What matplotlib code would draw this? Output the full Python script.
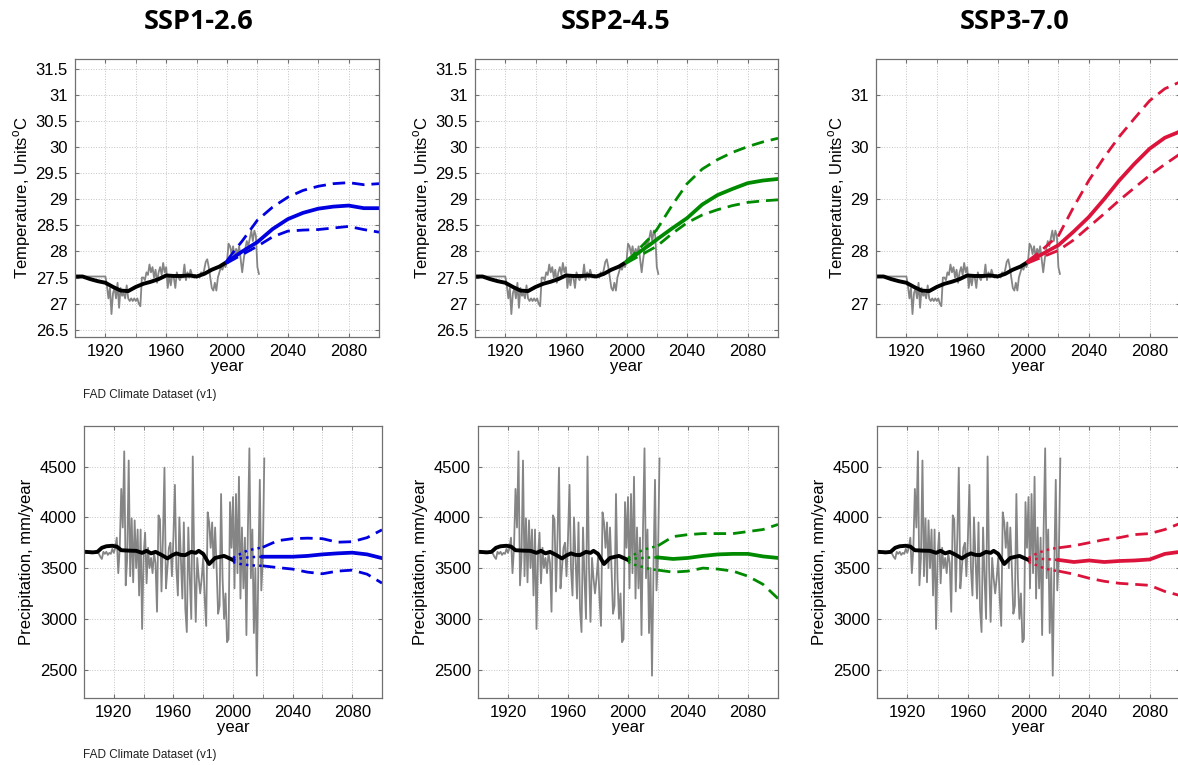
# -*- coding: utf-8 -*-
#=============================================================================
#IMPORT
#=============================================================================

import numpy as np
import matplotlib
matplotlib.use('Agg')
import matplotlib.pyplot as plt

plt.rcParams['font.family'] = ['Liberation Sans', 'DejaVu Sans']

#=============================================================================
#DATA
#=============================================================================

scenarios = ['SSP1-2.6', 'SSP2-4.5', 'SSP3-7.0']
colours = ['#0000e0', '#008a00', '#dc143c']

# observed annual temperature, 1901-2021
temp_obs = [27.52] * 20 + [
    27.35, 27.1, 27.3, 26.8, 27.2, 27.3, 27.1, 27.4, 26.92, 27.3,
    27.15, 27.2, 27.1, 27.35, 27.1, 27.05, 27.1, 27.05, 27.1, 27.05,
    27.1, 27.0, 26.95, 27.5, 27.5, 27.45, 27.6, 27.55, 27.75, 27.6,
    27.7, 27.5, 27.65, 27.4, 27.6, 27.7, 27.55, 27.78, 27.6, 27.7,
    27.3, 27.55, 27.35, 27.55, 27.5, 27.3, 27.6, 27.5, 27.45, 27.55,
    27.5, 27.75, 27.45, 27.6, 27.5, 27.65, 27.55, 27.5, 27.55, 27.5,
    27.55, 27.5, 27.6, 27.55, 27.65, 27.8, 27.85, 27.7, 27.5, 27.3,
    27.25, 27.4, 27.25, 27.5, 27.6, 27.7, 27.65, 27.75, 27.7, 27.8,
    28.15, 28.1, 27.95, 28.1, 27.9, 28.05, 27.95, 28.1, 27.85, 27.6,
    27.85, 28.05, 28.2, 28.1, 28.25, 28.4, 28.2, 28.4, 28.3, 27.7,
    27.57]

# smoothed historical temperature
temp_smooth_years = [1901, 1905, 1910, 1915, 1920, 1925, 1930, 1935, 1940, 1945, 1950,
                     1955, 1960, 1965, 1970, 1975, 1980, 1985, 1990, 1995, 2000]
temp_smooth = [27.52, 27.52, 27.47, 27.43, 27.40, 27.32, 27.25, 27.24, 27.32, 27.38, 27.42,
               27.47, 27.54, 27.53, 27.53, 27.54, 27.52, 27.57, 27.65, 27.71, 27.80]

# observed annual precipitation, 1901-2021
prec_obs = [
    3650, 3655, 3650, 3650, 3645, 3650, 3650, 3650, 3655, 3640,
    3610, 3590, 3660, 3640, 3660, 3630, 3650, 3640, 3690, 3650,
    3700, 3800, 3450, 3700, 4280, 3900, 4650, 3330, 3600, 4560,
    3420, 3990, 3360, 3970, 3500, 3880, 3230, 3880, 2900, 3620,
    3850, 3350, 3700, 3500, 3600, 3450, 3650, 3550, 3070, 4020,
    3980, 3270, 3800, 4490, 3300, 3500, 3700, 3750, 3420, 3800,
    4320, 3500, 3230, 4000, 3600, 3200, 3950, 3100, 2870, 3900,
    3400, 3000, 4600, 3500, 2970, 3600, 3400, 3250, 3400, 3600,
    3200, 2930, 4050, 3950, 3700, 3950, 3500, 3900, 3500, 3050,
    3130, 4230, 3400, 3000, 3250, 2770, 2800, 4150, 3700, 4200,
    3300, 4230, 3450, 4400, 3200, 3900, 3300, 3800, 2840, 3880,
    4680, 3400, 3880, 2860, 3500, 2440, 3500, 4370, 3280, 3600,
    4580]

# smoothed historical precipitation
prec_smooth_years = [1901, 1906, 1909, 1912, 1915, 1919, 1922, 1925, 1930, 1935, 1939,
                     1942, 1945, 1948, 1952, 1956, 1959, 1962, 1965, 1968, 1972,
                     1975, 1977, 1980, 1984, 1986, 1988, 1991, 1994, 1997, 2000]
prec_smooth = [3660, 3655, 3660, 3700, 3715, 3720, 3712, 3676, 3672, 3670, 3650,
               3670, 3645, 3660, 3630, 3595, 3625, 3645, 3630, 3628, 3660,
               3650, 3670, 3640, 3540, 3570, 3600, 3610, 3620, 3600, 3580]

# projections
proj_years = [2000, 2005, 2010, 2015, 2020, 2030, 2040, 2050, 2060, 2070, 2080, 2090, 2100]

temp_mean = [
    [27.80, 27.90, 28.00, 28.09, 28.18, 28.43, 28.62, 28.74, 28.82, 28.86, 28.88, 28.83, 28.83],
    [27.80, 27.91, 28.02, 28.12, 28.23, 28.44, 28.64, 28.90, 29.08, 29.20, 29.31, 29.36, 29.39],
    [27.80, 27.88, 27.96, 28.04, 28.12, 28.38, 28.66, 29.00, 29.36, 29.68, 29.97, 30.18, 30.30]]
temp_high = [
    [27.82, 28.02, 28.20, 28.40, 28.60, 28.85, 29.04, 29.17, 29.25, 29.30, 29.32, 29.28, 29.30],
    [27.82, 27.95, 28.10, 28.25, 28.42, 28.88, 29.30, 29.58, 29.76, 29.90, 30.01, 30.10, 30.17],
    [27.82, 27.93, 28.05, 28.18, 28.30, 28.85, 29.36, 29.80, 30.20, 30.55, 30.89, 31.12, 31.25]]
temp_low = [
    [27.78, 27.86, 27.94, 28.02, 28.10, 28.28, 28.39, 28.41, 28.42, 28.45, 28.48, 28.42, 28.37],
    [27.78, 27.86, 27.94, 28.02, 28.10, 28.34, 28.55, 28.70, 28.80, 28.88, 28.94, 28.97, 28.99],
    [27.78, 27.84, 27.90, 27.96, 28.02, 28.22, 28.47, 28.72, 28.98, 29.22, 29.46, 29.67, 29.87]]

prec_mean = [
    [3580, 3595, 3605, 3610, 3612, 3612, 3612, 3620, 3635, 3645, 3652, 3635, 3598],
    [3580, 3595, 3600, 3605, 3605, 3590, 3600, 3620, 3635, 3640, 3640, 3615, 3600],
    [3580, 3590, 3590, 3585, 3580, 3560, 3575, 3560, 3570, 3575, 3585, 3640, 3660]]
prec_high = [
    [3600, 3640, 3675, 3690, 3705, 3770, 3790, 3795, 3790, 3755, 3760, 3800, 3877],
    [3600, 3640, 3680, 3700, 3720, 3810, 3830, 3840, 3840, 3840, 3860, 3880, 3930],
    [3600, 3640, 3670, 3690, 3700, 3720, 3750, 3780, 3800, 3830, 3840, 3880, 3940]]
prec_low = [
    [3560, 3540, 3530, 3525, 3522, 3505, 3490, 3460, 3444, 3470, 3480, 3440, 3352],
    [3560, 3530, 3510, 3490, 3480, 3460, 3470, 3500, 3490, 3470, 3420, 3340, 3200],
    [3560, 3530, 3500, 3480, 3470, 3440, 3400, 3370, 3350, 3340, 3330, 3270, 3230]]

temp_ticks = [[26.5, 27, 27.5, 28, 28.5, 29, 29.5, 30, 30.5, 31, 31.5]] * 2 + [[27, 28, 29, 30, 31]]
prec_ticks = [2500, 3000, 3500, 4000, 4500]
year_labels = [1920, 1960, 2000, 2040, 2080]
year_grid = [1920, 1940, 1960, 1980, 2000, 2020, 2040, 2060, 2080]

#=============================================================================
#FIGURE
#=============================================================================

W, H = 1178., 765.
fig = plt.figure(figsize=(W / 100, H / 100), dpi=100)

def box(l, t, r, b):
    return [l / W, 1 - b / H, (r - l) / W, (b - t) / H]

top_boxes = [box(75, 59, 379, 337), box(475, 59, 778, 337), box(876, 59, 1180, 337)]
bot_boxes = [box(84, 426, 382, 698), box(478, 426, 778, 698), box(877, 426, 1180, 698)]

obs_years = np.arange(1901, 1901 + len(temp_obs))
py = np.array(proj_years)

def style(ax):
    ax.set_xlim(1900, 2100)
    ax.set_xticks(year_labels)
    ax.set_xticks(year_grid, minor=True)
    ax.grid(True, which='both', linestyle=':', color='#c4c4c4', linewidth=0.7)
    ax.tick_params(which='both', direction='in', top=True, right=True, length=3,
                   color='#707070', labelsize=12, pad=5)
    for s in ax.spines.values():
        s.set_color('#707070')
        s.set_linewidth(0.9)
    ax.set_xlabel('year', fontsize=12, labelpad=0)

for i in range(3):
    c = colours[i]
    # temperature
    ax = fig.add_axes(top_boxes[i])
    ax.plot(obs_years, temp_obs, color='#858585', lw=1.3)
    ax.plot(temp_smooth_years, temp_smooth, color='black', lw=2.8)
    ax.plot(py, temp_high[i], color=c, lw=2, dashes=(4.5, 2.5))
    ax.plot(py, temp_low[i], color=c, lw=2, dashes=(4.5, 2.5))
    ax.plot(py, temp_mean[i], color=c, lw=2.7)
    ax.set_ylim(26.36, 31.69)
    ax.set_yticks(temp_ticks[i])
    ax.set_yticklabels(['%g' % v for v in temp_ticks[i]])
    style(ax)
    ax.set_ylabel('Temperature, Units$^\\mathregular{o}$C', fontsize=12, labelpad=2)

    # precipitation
    ax = fig.add_axes(bot_boxes[i])
    ax.plot(obs_years, prec_obs, color='#858585', lw=1.3)
    ax.plot(prec_smooth_years, prec_smooth, color='black', lw=2.8)
    k = proj_years.index(2020)
    for series in (prec_high[i], prec_low[i], prec_mean[i]):
        ax.plot(py[:k + 1], series[:k + 1], color=c, lw=1.8, linestyle=':')
    ax.plot(py[k:], prec_high[i][k:], color=c, lw=2, dashes=(4.5, 2.5))
    ax.plot(py[k:], prec_low[i][k:], color=c, lw=2, dashes=(4.5, 2.5))
    ax.plot(py[k:], prec_mean[i][k:], color=c, lw=2.7)
    ax.set_ylim(2220, 4900)
    ax.set_yticks(prec_ticks)
    style(ax)
    ax.set_ylabel('Precipitation, mm/year', fontsize=12, labelpad=4)

title_x = [199, 616, 1015]
for i in range(3):
    fig.text(title_x[i] / W, 1 - 22 / H, scenarios[i], ha='center', va='center',
             fontsize=19.5, fontweight='bold', family=['Open Sans', 'DejaVu Sans'])

fig.text(83 / W, 1 - 395 / H, 'FAD Climate Dataset (v1)', fontsize=8.5, va='center', color='#202020')
fig.text(83 / W, 1 - 755 / H, 'FAD Climate Dataset (v1)', fontsize=8.5, va='center', color='#202020')

fig.savefig('out.png', dpi=100)
